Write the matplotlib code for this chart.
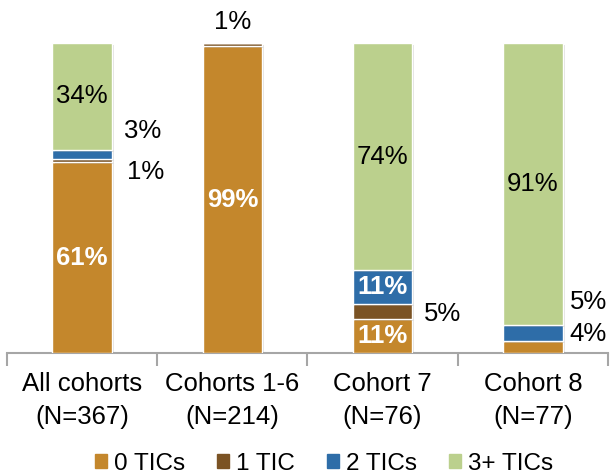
import matplotlib
matplotlib.use("Agg")
import matplotlib.pyplot as plt
import matplotlib.patheffects as pe
import numpy as np

plt.rcParams['font.family'] = ['Liberation Sans', 'DejaVu Sans']

categories = ["All cohorts\n(N=367)", "Cohorts 1-6\n(N=214)", "Cohort 7\n(N=76)", "Cohort 8\n(N=77)"]
series_names = ["0 TICs", "1 TIC", "2 TICs", "3+ TICs"]
tic0 = [61, 99, 11, 4]
tic1 = [1, 1, 5, 0]
tic2 = [3, 0, 11, 5]
tic3 = [34, 0, 74, 91]
colors = ["#C4872C", "#7B5324", "#2E6DA8", "#BBD08D"]

# which labels go inside (style) / outside (position)
inside_labels = [
    # (category index, series index, bold white?)
    (0, 0, True), (0, 3, False),
    (1, 0, True),
    (2, 0, True), (2, 2, True), (2, 3, False),
    (3, 3, False),
]
outside_labels = [
    # (category index, series index, x, y in data coords)
    (0, 2, 0.40, 71.5),
    (0, 1, 0.42, 58.5),
    (1, 1, 1.00, 107.0),
    (2, 1, 2.40, 12.5),
    (3, 2, 3.37, 16.5),
    (3, 0, 3.37, 6.0),
]

raw = np.array([tic0, tic1, tic2, tic3], dtype=float)
norm = raw / raw.sum(axis=0) * 100.0

fig = plt.figure(figsize=(6.14, 4.75), dpi=100)
ax = fig.add_axes([0.0114, 0.257, 0.9788, 0.652])
x = np.arange(len(categories))
bottom = np.zeros(len(categories))
bars = []
for i, name in enumerate(series_names):
    b = ax.bar(x, norm[i], 0.395, bottom=bottom, color=colors[i], edgecolor="white",
               linewidth=1.0, label=name, zorder=3)
    for r in b:
        r.set_path_effects([pe.SimplePatchShadow(offset=(1.5, -1.5), shadow_rgbFace="#000000", alpha=0.12), pe.Normal()])
    bars.append((bottom.copy(), norm[i].copy()))
    bottom += norm[i]

for ci, si, bold in inside_labels:
    b0, h = bars[si][0][ci], bars[si][1][ci]
    ax.text(x[ci], b0 + h / 2, f"{raw[si][ci]:.0f}%", ha="center", va="center",
            fontsize=18.5, color="white" if bold else "black",
            fontweight="bold" if bold else "normal", zorder=5)
for ci, si, tx, ty in outside_labels:
    ax.text(tx, ty, f"{raw[si][ci]:.0f}%", ha="center", va="center", fontsize=18.5,
            color="black", clip_on=False, zorder=5)

ax.set_xlim(-0.5, 3.5)
ax.set_ylim(0, 100)
for s in ["top", "right", "left"]:
    ax.spines[s].set_visible(False)
ax.spines["bottom"].set_color("#A6A6A6")
ax.spines["bottom"].set_linewidth(1.5)
ax.set_yticks([])
ax.set_xticks(x)
ax.set_xticklabels(categories, fontsize=18.5, linespacing=1.45)
ax.tick_params(axis="x", which="major", length=0, pad=14)
ax.set_xticks(np.arange(-0.5, 4.0, 1.0), minor=True)
ax.tick_params(axis="x", which="minor", length=9, width=1.5, color="#A6A6A6", direction="out")

handles = [plt.Rectangle((0, 0), 1, 1, color=c) for c in colors]
fig.legend(handles, series_names, loc="center", bbox_to_anchor=(0.528, 0.024), ncol=4,
           frameon=False, fontsize=17.5, handlelength=0.5, handleheight=0.5,
           handletextpad=0.3, columnspacing=1.3)

fig.savefig("out.png", dpi=100)
